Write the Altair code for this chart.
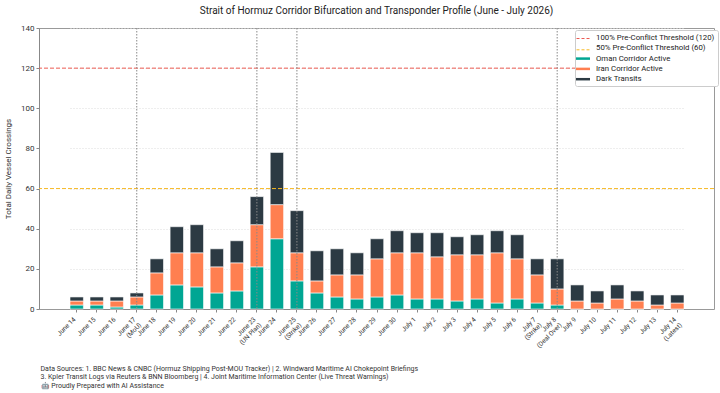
import altair as alt
import pandas as pd

days = ["June 14", "June 15", "June 16", "June 17\n(MoU)", "June 18", "June 19", "June 20",
        "June 21", "June 22", "June 23\n(UN Plan)", "June 24", "June 25\n(Strike)", "June 26",
        "June 27", "June 28", "June 29", "June 30", "July 1", "July 2", "July 3", "July 4",
        "July 5", "July 6", "July 7\n(Strike)", "July 8\n(Deal Over)", "July 9", "July 10",
        "July 11", "July 12", "July 13", "July 14\n(Latest)"]
oman = [2, 2, 1, 2, 7, 12, 11, 8, 9, 21, 35, 14, 8, 6, 5, 6, 7, 5, 5, 4, 5, 3, 5, 3, 2, 0, 0, 0, 0, 0, 0]
iran = [2, 2, 3, 4, 11, 16, 17, 13, 14, 21, 17, 14, 6, 11, 12, 19, 21, 23, 21, 23, 22, 25, 20, 14, 8, 4, 3, 5, 4, 2, 3]
dark = [2, 2, 2, 2, 7, 13, 14, 9, 11, 14, 26, 21, 15, 13, 11, 10, 11, 10, 12, 9, 10, 11, 12, 8, 15, 8, 6, 7, 5, 5, 4]

series_names = ["Oman Corridor Active", "Iran Corridor Active", "Dark Transits"]
series_colors = ["#00a693", "#ff7f50", "#2c3a43"]
threshold_names = ["100% Pre-Conflict Threshold (120)", "50% Pre-Conflict Threshold (60)"]
threshold_values = [120, 60]
threshold_colors = ["#ec5a52", "#f7b924"]
event_days = ["June 17\n(MoU)", "June 23\n(UN Plan)", "June 25\n(Strike)", "July 8\n(Deal Over)"]
footnote = [
    "Data Sources: 1. BBC News & CNBC (Hormuz Shipping Post-MOU Tracker) | 2. Windward Maritime AI Chokepoint Briefings",
    "3. Kpler Transit Logs via Reuters & BNN Bloomberg | 4. Joint Maritime Information Center (Live Threat Warnings)",
    "\U0001F916 Proudly Prepared with AI Assistance",
]

rows = []
for i, d in enumerate(days):
    for k, (name, vals) in enumerate(zip(series_names, [oman, iran, dark])):
        rows.append({"day": d, "series": name, "value": vals[i], "ord": k})
bars_df = pd.DataFrame(rows)
thr_df = pd.DataFrame({"threshold": threshold_names, "value": threshold_values})
evt_df = pd.DataFrame({"day": event_days})

common_legend = dict(
    title=None, orient="none", legendX=536, legendY=2, padding=3,
    labelFontSize=7.8, symbolSize=100, rowPadding=1.3, labelOffset=8, symbolOffset=0,
)
# full legend box (bars + placeholders for the threshold rows)
legend_bar = alt.Legend(
    strokeColor="#cccccc", fillColor="white", cornerRadius=2, labelColor="#222",
    symbolType="M-1.4,-0.25L1.4,-0.25L1.4,0.25L-1.4,0.25Z", symbolStrokeWidth=0,
    **common_legend)
# dashed line symbols drawn over the first two rows
legend_thr = alt.Legend(
    symbolType="M-1.4,0L1.4,0", symbolDash=[3, 2], symbolStrokeWidth=1,
    symbolFillColor="transparent", labelOpacity=0, labelColor="#222",
    **common_legend)

x_enc = alt.X(
    "day:N", sort=days,
    scale=alt.Scale(domain=days, paddingInner=0.33, paddingOuter=0, range=[31, 645]),
    axis=alt.Axis(
        title=footnote, labelExpr="split(datum.value, '\\n')", labelAngle=-45,
        labelAlign="right", labelBaseline="bottom", labelFontSize=6.5, labelColor="#333",
        labelPadding=8, labelLineHeight=8, tickSize=3, grid=False,
        titleAnchor="start", titleAlign="left", titleX=1, titleY=55, titleFontSize=7,
        titleFontWeight="normal", titleLineHeight=8.5, titleBaseline="top", titleColor="#333",
    ),
)

y_enc = alt.Y(
    "value:Q", stack="zero",
    scale=alt.Scale(domain=[0, 140], nice=False),
    axis=alt.Axis(values=list(range(0, 141, 20)), title="Total Daily Vessel Crossings",
                  titleFontSize=8, titleFontWeight="normal", titleColor="#333",
                  labelFontSize=8, labelColor="#333", tickSize=3, titlePadding=8,
                  gridDash=[1, 2], gridColor="#dddddd"),
)

bars = alt.Chart(bars_df).mark_bar(stroke="white", strokeWidth=0.6).encode(
    x=x_enc, y=y_enc,
    fill=alt.Fill("series:N",
                  scale=alt.Scale(domain=threshold_names + series_names,
                                  range=["transparent", "transparent"] + series_colors),
                  legend=legend_bar),
    order=alt.Order("ord:Q"),
)

thr = alt.Chart(thr_df).mark_rule(strokeDash=[4, 2], strokeWidth=1).encode(
    y=alt.Y("value:Q"),
    stroke=alt.Stroke("threshold:N",
                      scale=alt.Scale(domain=threshold_names, range=threshold_colors),
                      legend=legend_thr),
)

evt = alt.Chart(evt_df).mark_rule(color="#888888", strokeDash=[1.5, 1.5], strokeWidth=1).encode(
    x=alt.X("day:N"),
)

chart = alt.layer(bars, thr, evt).properties(
    width=675, height=281,
    autosize=alt.AutoSizeParams(type="none"),
    padding={"left": 39, "top": 28, "right": 6, "bottom": 84},
    title=alt.TitleParams(
        "Strait of Hormuz Corridor Bifurcation and Transponder Profile (June - July 2026)",
        fontSize=10, fontWeight="normal", offset=8, anchor="middle", color="#222",
    ),
).resolve_legend(fill="independent", stroke="independent").configure(
    font="Roboto",
).configure_view(
    stroke="#999999",
).configure_axis(
    domainColor="#888888", tickColor="#888888",
)

chart.save("out.html", embed_options={"renderer": "svg", "actions": False})
